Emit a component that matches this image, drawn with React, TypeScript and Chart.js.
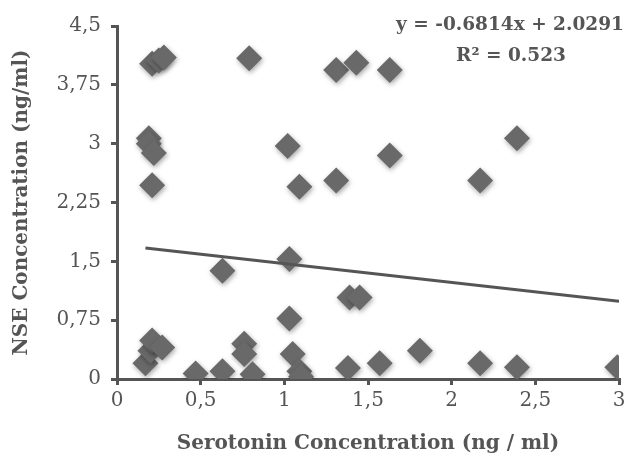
import React, { useEffect, useRef } from "react";
import { Chart, registerables } from "chart.js";

Chart.register(...registerables);

const serotonin = [
  0.17, 0.2, 0.21, 0.27, 0.47, 0.63, 0.76, 0.76, 0.81, 1.03, 1.05, 1.09, 1.1,
  1.38, 1.57, 1.81, 2.17, 2.39, 2.99, 1.03, 0.63, 1.39, 1.45, 0.21, 0.19, 0.19,
  0.22, 1.02, 1.09, 1.31, 1.63, 2.17, 2.39, 0.21, 0.25, 0.28, 0.79, 1.31, 1.43,
  1.63,
];
const nse = [
  0.2, 0.36, 0.49, 0.4, 0.07, 0.1, 0.45, 0.32, 0.06, 0.77, 0.32, 0.1, 0.03,
  0.14, 0.2, 0.36, 0.2, 0.15, 0.15, 1.53, 1.38, 1.04, 1.04, 2.47, 3.07, 3.0,
  2.88, 2.97, 2.45, 2.53, 2.85, 2.53, 3.07, 4.02, 4.06, 4.1, 4.09, 3.94, 4.03,
  3.94,
];
const trendX = [0.17, 3.0];
const trendY = [1.67, 0.99];
const equationLines = ["y = -0.6814x + 2.0291", "R² = 0.523"];
const xTitle = "Serotonin Concentration (ng / ml)";
const yTitle = "NSE Concentration (ng/ml)";

const FONT = "'DejaVu Serif'";
const fmt = (v: number) => String(+v.toFixed(2)).replace(".", ",");

export default function App() {
  const ref = useRef<HTMLCanvasElement | null>(null);
  useEffect(() => {
    if (!ref.current) return;
    const shadowPlugin = {
      id: "shadow",
      beforeDatasetDraw(chart: any, args: any) {
        if (args.index === 1) {
          chart.ctx.save();
          chart.ctx.shadowColor = "rgba(0,0,0,0.35)";
          chart.ctx.shadowBlur = 5;
          chart.ctx.shadowOffsetX = 1;
          chart.ctx.shadowOffsetY = 2;
        }
      },
      afterDatasetDraw(chart: any, args: any) {
        if (args.index === 1) chart.ctx.restore();
      },
    };
    const eqPlugin = {
      id: "eq",
      afterDraw(chart: any) {
        const ctx = chart.ctx;
        ctx.save();
        ctx.fillStyle = "#555";
        ctx.font = `bold 18.5px ${FONT}`;
        ctx.textAlign = "center";
        ctx.textBaseline = "middle";
        ctx.fillText(equationLines[0], 510, 25);
        ctx.fillText(equationLines[1], 511, 56);
        ctx.restore();
      },
    };
    const chart = new Chart(ref.current, {
      type: "scatter",
      data: {
        datasets: [
          {
            type: "line",
            data: trendX.map((x, i) => ({ x, y: trendY[i] })),
            borderColor: "#555",
            borderWidth: 3,
            pointRadius: 0,
            showLine: true,
            fill: false,
          } as any,
          {
            data: serotonin.map((x, i) => ({ x, y: nse[i] })),
            pointStyle: "rectRot",
            pointRadius: 13,
            backgroundColor: "#696969",
            borderColor: "#696969",
            borderWidth: 0,
          },
        ],
      },
      options: {
        responsive: false,
        animation: false,
        layout: { padding: { left: 10, right: 11, top: 26, bottom: 0 } },
        plugins: { legend: { display: false }, tooltip: { enabled: false } },
        scales: {
          x: {
            type: "linear",
            min: 0,
            max: 3,
            ticks: {
              stepSize: 0.5,
              color: "#555",
              font: { family: FONT, size: 20 },
              padding: 4,
              callback: (v: any) => fmt(Number(v)),
            },
            grid: {
              display: true,
              drawOnChartArea: false,
              drawTicks: true,
              tickLength: 6,
              color: "#555",
              lineWidth: 3,
            },
            border: { display: true, color: "#555", width: 3 },
            title: {
              display: true,
              text: xTitle,
              color: "#555",
              font: { family: FONT, size: 20, weight: "bold" },
              padding: { top: 2, bottom: 0 },
            },
            afterFit(scale: any) {
              scale.height = 77;
            },
          },
          y: {
            type: "linear",
            min: 0,
            max: 4.5,
            ticks: {
              stepSize: 0.75,
              color: "#555",
              font: { family: FONT, size: 20 },
              padding: 10,
              callback: (v: any) => fmt(Number(v)),
            },
            grid: {
              display: true,
              drawOnChartArea: false,
              drawTicks: true,
              tickLength: 6,
              color: "#555",
              lineWidth: 3,
            },
            border: { display: true, color: "#555", width: 3 },
            title: {
              display: true,
              text: yTitle,
              color: "#555",
              font: { family: FONT, size: 20, weight: "bold" },
              padding: { top: 0, bottom: 2 },
            },
            afterFit(scale: any) {
              scale.width = 107;
            },
          },
        },
      },
      plugins: [shadowPlugin, eqPlugin],
    });
    return () => chart.destroy();
  }, []);
  return (
    <div style={{ position: "fixed", left: 0, top: 0, width: 632, height: 456, background: "#fff" }}>
      <canvas ref={ref} width={632} height={456} />
    </div>
  );
}
